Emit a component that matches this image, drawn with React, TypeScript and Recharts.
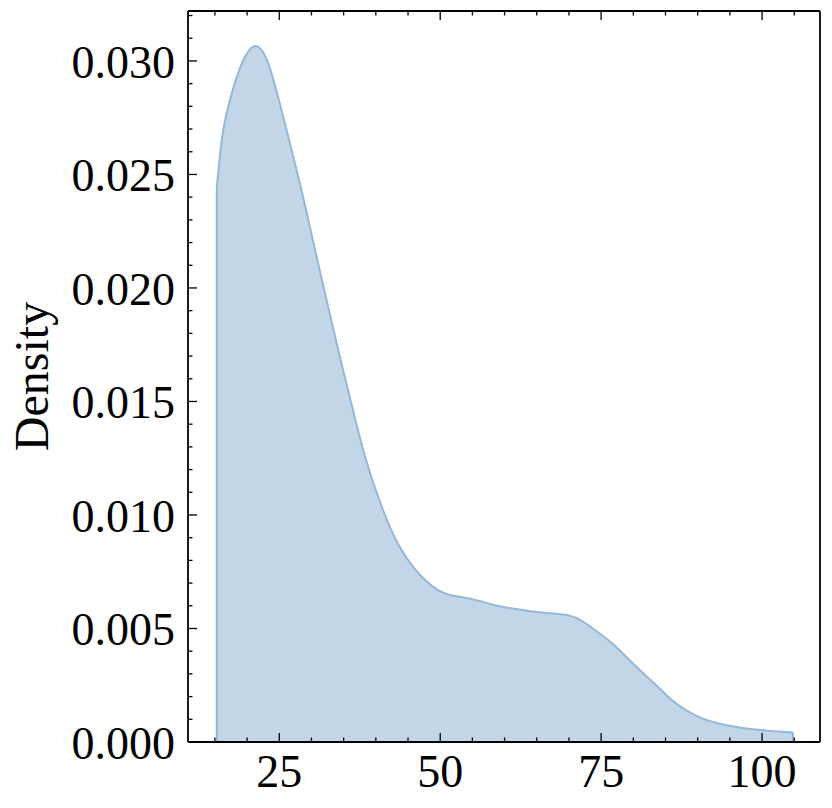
import React from 'react';
import { ComposedChart, Area, XAxis, YAxis, ReferenceLine } from 'recharts';

const xValues = [15.3, 15.7, 16.3, 17.5, 19.2, 21.1, 23.0, 25.1, 28.2, 30.3, 32.4, 34.3, 36.2, 38.4, 41.0, 43.5, 46.1, 48.6, 51.2, 54.8, 58.9, 62.0, 65.0, 69.1, 71.6, 74.2, 77.3, 80.5, 83.1, 85.7, 88.3, 90.8, 93.4, 96.0, 98.6, 101.2, 104.8];
const densityValues = [0.02445, 0.0256, 0.02695, 0.02845, 0.0299, 0.03065, 0.0301, 0.0281, 0.0246, 0.022, 0.0194, 0.0171, 0.0149, 0.0125, 0.0103, 0.0087, 0.0076, 0.0069, 0.0065, 0.0063, 0.006, 0.00585, 0.00573, 0.00562, 0.0054, 0.0049, 0.0042, 0.0033, 0.00262, 0.00192, 0.00138, 0.00103, 0.00081, 0.00066, 0.00056, 0.00049, 0.00042];

const xTicks = [15, 20, 25, 30, 35, 40, 45, 50, 55, 60, 65, 70, 75, 80, 85, 90, 95, 100, 105];
const xMajor = [25, 50, 75, 100];
const yTicks = [0, 0.001, 0.002, 0.003, 0.004, 0.005, 0.006, 0.007, 0.008, 0.009, 0.01, 0.011, 0.012, 0.013, 0.014, 0.015, 0.016, 0.017, 0.018, 0.019, 0.02, 0.021, 0.022, 0.023, 0.024, 0.025, 0.026, 0.027, 0.028, 0.029, 0.03, 0.031, 0.032];
const yMajor = [0, 0.005, 0.01, 0.015, 0.02, 0.025, 0.03];
const yLabels = ['0.000', '0.005', '0.010', '0.015', '0.020', '0.025', '0.030'];

const data = xValues.map((x, i) => ({ x, d: densityValues[i] }));

const FONT = '"Liberation Serif", "DejaVu Serif", serif';
const FS = 46;
const MAJOR = 9;
const MINOR = 4.5;
const TW = 1.3;
const FILL = '#0C5DA5';
const EDGE = '#94b8d8';

const isMajorX = (v: number) => xMajor.some((m) => Math.abs(m - v) < 1e-6);
const majorYIndex = (v: number) => yMajor.findIndex((m) => Math.abs(m - v) < 1e-9);

const BottomTick = (props: any) => {
  const { x, y, payload } = props;
  const major = isMajorX(payload.value);
  return (
    <g>
      <line x1={x} x2={x} y1={y} y2={y - (major ? MAJOR : MINOR)} stroke="#000" strokeWidth={TW} />
      {major && (
        <text x={x} y={y + 45} textAnchor="middle" fontFamily={FONT} fontSize={FS} fill="#000">
          {payload.value}
        </text>
      )}
    </g>
  );
};

const TopTick = (props: any) => {
  const { x, y, payload } = props;
  const major = isMajorX(payload.value);
  return <line x1={x} x2={x} y1={y} y2={y + (major ? MAJOR : MINOR)} stroke="#000" strokeWidth={TW} />;
};

const LeftTick = (props: any) => {
  const { x, y, payload } = props;
  const idx = majorYIndex(payload.value);
  const major = idx >= 0;
  return (
    <g>
      <line x1={x} x2={x + (major ? MAJOR : MINOR)} y1={y} y2={y} stroke="#000" strokeWidth={TW} />
      {major && (
        <text x={x - 13} y={y + 17} textAnchor="end" fontFamily={FONT} fontSize={FS} fill="#000">
          {yLabels[idx]}
        </text>
      )}
    </g>
  );
};

const RightTick = (props: any) => {
  const { x, y, payload } = props;
  const major = majorYIndex(payload.value) >= 0;
  return <line x1={x} x2={x - (major ? MAJOR : MINOR)} y1={y} y2={y} stroke="#000" strokeWidth={TW} />;
};

const DensityLabel = (props: any) => {
  const vb = props.viewBox || { x: 0, y: 11, width: 188, height: 731 };
  const cx = vb.x + 48;
  const cy = vb.y + vb.height / 2;
  return (
    <text x={cx} y={cy} transform={`rotate(-90, ${cx}, ${cy})`} textAnchor="middle" fontFamily={FONT} fontSize={48} fill="#000">
      Density
    </text>
  );
};

const first = data[0];
const last = data[data.length - 1];

export default function App() {
  return (
    <div style={{ position: 'absolute', left: 0, top: 0, width: 832, height: 808, background: '#fff' }}>
      <ComposedChart width={832} height={808} data={data} margin={{ top: 10, right: 11, left: 0, bottom: 0 }}>
        <XAxis
          dataKey="x"
          type="number"
          domain={[10.82, 109.0]}
          ticks={xTicks}
          interval={0}
          height={66}
          tickSize={0}
          tickMargin={0}
          tickLine={false}
          axisLine={{ stroke: '#000', strokeWidth: 1.8 }}
          tick={<BottomTick />}
        />
        <XAxis
          xAxisId="top"
          orientation="top"
          dataKey="x"
          type="number"
          domain={[10.82, 109.0]}
          ticks={xTicks}
          interval={0}
          height={1}
          tickSize={0}
          tickMargin={0}
          tickLine={false}
          axisLine={{ stroke: '#000', strokeWidth: 1.8 }}
          tick={<TopTick />}
        />
        <YAxis
          type="number"
          domain={[0, 0.0322]}
          ticks={yTicks}
          interval={0}
          width={188}
          tickSize={0}
          tickMargin={0}
          tickLine={false}
          axisLine={{ stroke: '#000', strokeWidth: 1.8 }}
          tick={<LeftTick />}
          label={{ value: 'Density', content: (p: any) => <DensityLabel {...p} /> }}
        />
        <YAxis
          yAxisId="right"
          orientation="right"
          type="number"
          domain={[0, 0.0322]}
          ticks={yTicks}
          interval={0}
          width={1}
          tickSize={0}
          tickMargin={0}
          tickLine={false}
          axisLine={{ stroke: '#000', strokeWidth: 1.8 }}
          tick={<RightTick />}
        />
        <Area
          type="natural"
          dataKey="d"
          fill={FILL}
          fillOpacity={0.25}
          stroke={EDGE}
          strokeWidth={2}
          isAnimationActive={false}
          dot={false}
          activeDot={false}
        />
        <ReferenceLine
          segment={[{ x: first.x, y: 0 }, { x: first.x, y: first.d }]}
          stroke={EDGE}
          strokeWidth={2}
        />
        <ReferenceLine
          segment={[{ x: last.x, y: 0 }, { x: last.x, y: last.d }]}
          stroke={EDGE}
          strokeWidth={2}
        />
      </ComposedChart>
    </div>
  );
}
